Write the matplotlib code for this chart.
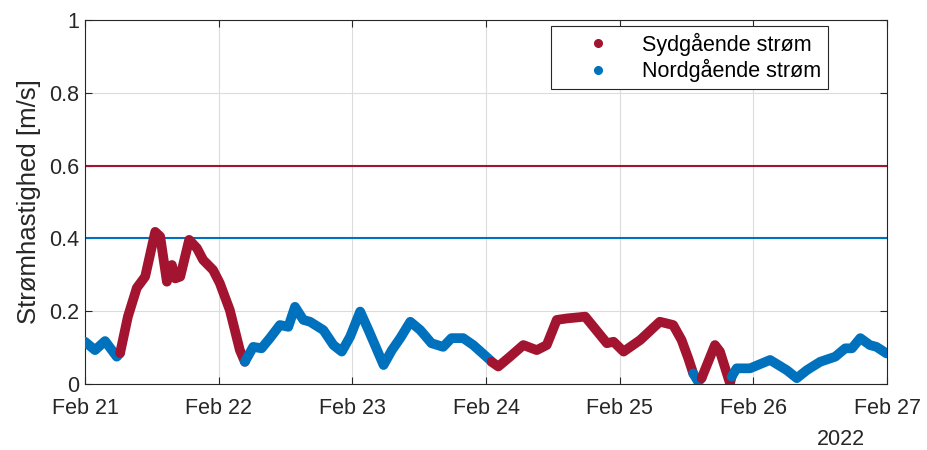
import matplotlib.pyplot as plt
import matplotlib.dates as mdates
import numpy as np
from datetime import datetime, timedelta
from matplotlib.lines import Line2D

plt.rcParams['font.family'] = ['Liberation Sans', 'DejaVu Sans']

# hours after 2022-02-21 00:00, speed [m/s], True = southbound
hours = [0.0, 1.8, 3.6, 5.7,
         6.3, 7.7, 9.3, 10.8, 12.6, 13.5, 14.7, 15.6, 16.2, 17.1, 18.7, 20.1,
         21.2, 23.0, 24.2, 26.0, 27.8,
         28.7, 30.2, 31.7, 33.2, 35.0, 36.5, 37.7, 39.2, 40.4, 42.8, 44.6, 46.1,
         47.6, 49.4, 50.9, 53.6, 55.1, 56.6, 58.4, 60.2, 62.2, 64.3, 65.8, 67.9,
         69.7, 72.7,
         73.0, 74.2, 76.3, 78.7, 81.1, 82.9, 84.7, 86.5, 89.8, 91.3, 93.7, 94.9,
         96.7, 99.7, 103.2, 105.6, 107.1, 108.3,
         109.2, 110.1,
         110.7, 113.1, 114.0, 115.8,
         116.1, 117.0, 119.4, 123.0, 126.0, 127.8, 129.6, 132.0, 134.7, 136.5,
         137.7, 139.2, 140.9, 142.1, 143.9]
speed = [0.116, 0.093, 0.118, 0.075,
         0.085, 0.185, 0.264, 0.295, 0.418, 0.405, 0.281, 0.327, 0.290, 0.295,
         0.396, 0.373, 0.341, 0.313, 0.277, 0.203, 0.093,
         0.061, 0.102, 0.098, 0.126, 0.162, 0.157, 0.212, 0.176, 0.171, 0.148,
         0.107, 0.089, 0.130, 0.199, 0.148, 0.052, 0.093, 0.126, 0.171, 0.148,
         0.112, 0.102, 0.126, 0.126, 0.107, 0.066,
         0.061, 0.048, 0.075, 0.107, 0.093, 0.107, 0.176, 0.180, 0.185, 0.157,
         0.112, 0.116, 0.089, 0.121, 0.171, 0.162, 0.121, 0.071,
         0.029, 0.006,
         0.016, 0.107, 0.089, 0.002,
         0.020, 0.043, 0.043, 0.066, 0.038, 0.016, 0.038, 0.061, 0.075, 0.098,
         0.098, 0.126, 0.107, 0.102, 0.084]
southbound = ([False] * 4 + [True] * 17 + [False] * 26 + [True] * 18
              + [False] * 2 + [True] * 4 + [False] * 15)

limit_south = 0.6
limit_north = 0.4

red = '#A2142F'
blue = '#0072BD'

start = datetime(2022, 2, 21)
times = [start + timedelta(hours=h) for h in hours]

fig = plt.figure(figsize=(9.27, 4.5), dpi=100)
ax = fig.add_axes([0.0917, 0.1467, 0.8652, 0.8089])

# draw each run of equal direction, joined to the next run
i = 0
n = len(times)
while i < n:
    j = i
    while j + 1 < n and southbound[j + 1] == southbound[i]:
        j += 1
    stop = min(j + 2, n)
    ax.plot(times[i:stop], speed[i:stop], color=red if southbound[i] else blue,
            lw=7, solid_capstyle='round', solid_joinstyle='round', zorder=3)
    i = j + 1

ax.axhline(limit_south, color=red, lw=1.5, zorder=2)
ax.axhline(limit_north, color=blue, lw=1.5, zorder=2)

ax.set_xlim(start, start + timedelta(days=6))
ax.set_ylim(0, 1)
ax.set_yticks([0, 0.2, 0.4, 0.6, 0.8, 1])
ax.set_yticklabels(['0', '0.2', '0.4', '0.6', '0.8', '1'])
ax.xaxis.set_major_locator(mdates.DayLocator())
ax.xaxis.set_major_formatter(mdates.DateFormatter('%b %d'))
ax.set_ylabel('Strømhastighed [m/s]', fontsize=18.5, color='#262626',
              labelpad=6)
ax.text(0.9726, -0.1236, '2022', transform=ax.transAxes, ha='right',
        va='top', fontsize=15.5, color='#262626')

ax.grid(True, color='#dcdcdc', lw=0.8)
ax.set_axisbelow(True)
ax.tick_params(direction='in', top=True, right=True, labelsize=15.5,
               colors='#262626', length=5)
ax.tick_params(axis='x', pad=10)
ax.tick_params(axis='y', pad=4)
for s in ax.spines.values():
    s.set_color('#262626')
    s.set_linewidth(0.8)

handles = [Line2D([], [], ls='none', marker='o', ms=5.5, color=red),
           Line2D([], [], ls='none', marker='o', ms=5.5, color=blue)]
leg = ax.legend(handles, ['Sydgående strøm', 'Nordgående strøm'],
                loc='upper left', bbox_to_anchor=(0.581, 0.983),
                borderaxespad=0, fontsize=15.5, fancybox=False,
                edgecolor='#262626', framealpha=1, borderpad=0.3,
                handletextpad=0.15, labelspacing=0.15, handlelength=3.8)
leg.get_frame().set_linewidth(0.8)

fig.savefig('out.png', dpi=100)
